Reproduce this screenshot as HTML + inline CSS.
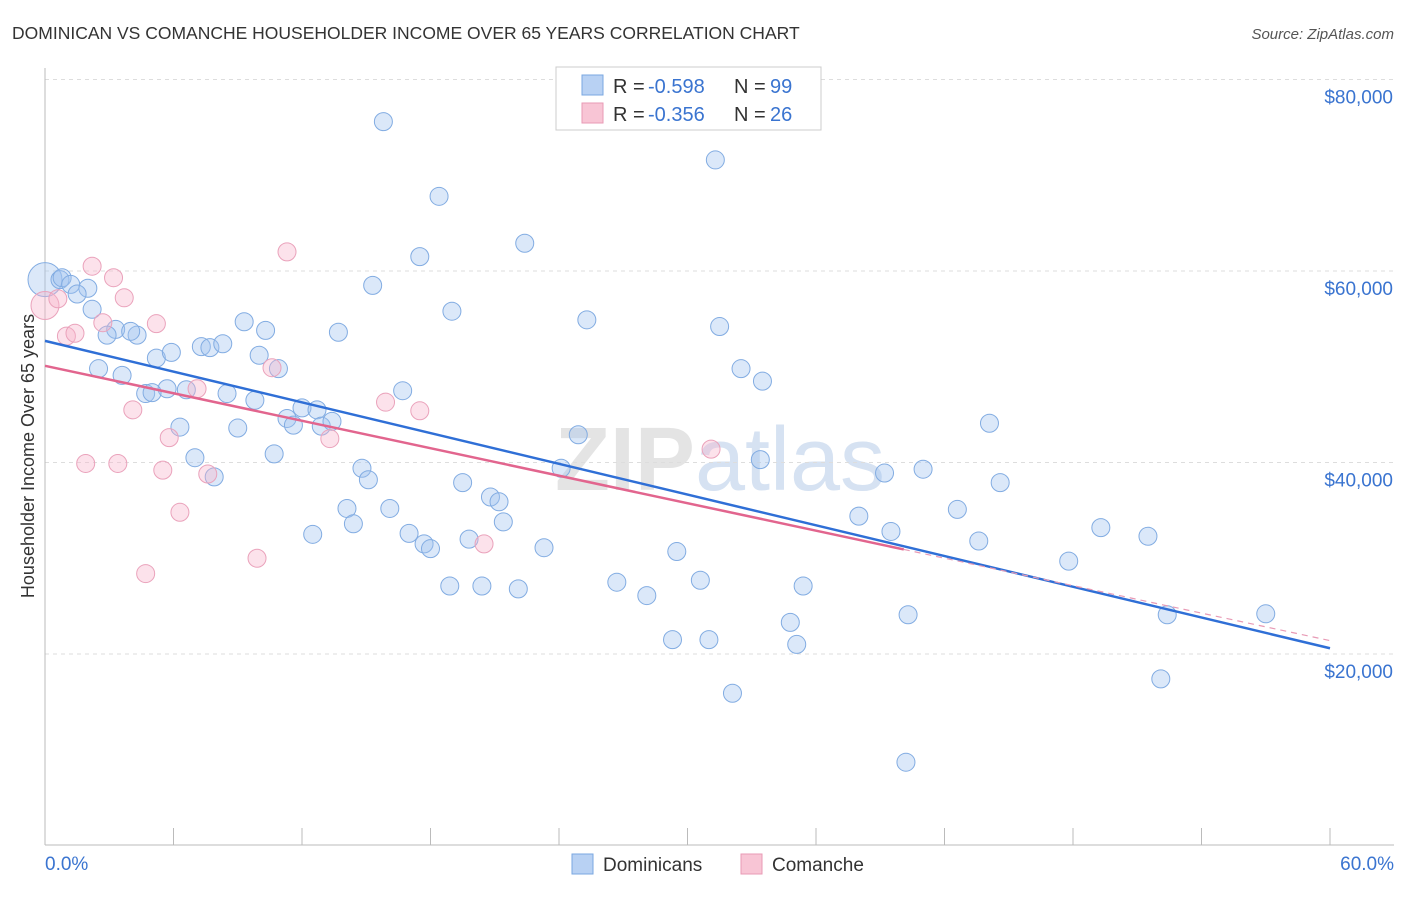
<!DOCTYPE html>
<html><head><meta charset="utf-8"><style>
body{margin:0;background:#fff;font-family:"Liberation Sans",sans-serif;}
svg text{font-family:"Liberation Sans",sans-serif;}
</style></head><body>
<svg id="chart" width="1406" height="892">
<text x="12" y="39" font-size="17.5" fill="#333">DOMINICAN VS COMANCHE HOUSEHOLDER INCOME OVER 65 YEARS CORRELATION CHART</text>
<text x="1394" y="39" font-size="15" fill="#555" font-style="italic" text-anchor="end">Source: ZipAtlas.com</text>
<text x="720" y="490" font-size="90" fill="#e4e4e4" text-anchor="middle" font-weight="bold">ZIP<tspan fill="#d6e2f2" font-weight="normal">atlas</tspan></text>
<g id="grid"></g>
<g id="axes"></g>
<g id="pts"></g>
<g id="trend"></g>
<text transform="translate(34,456) rotate(-90)" font-size="18" fill="#333" text-anchor="middle">Householder Income Over 65 years</text>
<g>
<rect x="556" y="67" width="265" height="63" fill="#fff" stroke="#ccc"/>
<rect x="582" y="75" width="21" height="20" fill="#b8d1f3" stroke="#7aa7e0"/>
<rect x="582" y="103" width="21" height="20" fill="#f8c5d5" stroke="#e89ab5"/>
<text x="613" y="93" font-size="20" fill="#333">R =</text>
<text x="648" y="93" font-size="20" fill="#3a74d0">-0.598</text>
<text x="734" y="93" font-size="20" fill="#333">N =</text>
<text x="770" y="93" font-size="20" fill="#3a74d0">99</text>
<text x="613" y="121" font-size="20" fill="#333">R =</text>
<text x="648" y="121" font-size="20" fill="#3a74d0">-0.356</text>
<text x="734" y="121" font-size="20" fill="#333">N =</text>
<text x="770" y="121" font-size="20" fill="#3a74d0">26</text>
</g>
<g>
<rect x="572" y="854" width="21" height="20" fill="#b8d1f3" stroke="#7aa7e0"/>
<text x="603" y="871" font-size="19" fill="#333">Dominicans</text>
<rect x="741" y="854" width="21" height="20" fill="#f8c5d5" stroke="#e89ab5"/>
<text x="772" y="871" font-size="19" fill="#333">Comanche</text>
</g>
</svg>
<script>
const yTicks=[20000,40000,60000,80000];
const yTickLabels=["$20,000","$40,000","$60,000","$80,000"];
const xTickLabels=["0.0%","60.0%"];
const blueX=[0.0,0.7,0.8,1.2,2.0,1.5,2.2,3.3,2.9,4.3,4.0,2.5,3.6,5.2,5.9,5.7,4.7,5.0,6.6,6.3,7.3,7.7,8.3,8.5,9.3,10.3,10.0,10.9,9.8,9.0,7.0,7.9,10.7,11.3,11.6,12.0,12.7,12.9,13.4,13.7,15.3,15.8,17.5,18.4,19.0,16.7,14.8,15.1,14.1,14.4,16.1,12.5,17.0,17.7,18.0,18.9,19.5,19.8,20.4,20.8,21.2,21.4,22.1,22.4,23.3,24.9,24.1,25.3,26.7,28.1,29.5,29.3,30.6,31.0,31.3,31.5,32.5,33.5,33.4,32.1,34.8,35.1,35.4,38.0,39.2,39.5,40.3,40.2,41.0,42.6,43.6,44.1,44.6,47.8,49.3,51.5,52.1,52.4,57.0];
const blueY=[59100,59100,59300,58600,58200,57600,56000,53900,53300,53300,53700,49800,49100,50900,51500,47700,47200,47300,47600,43700,52100,52000,52400,47200,54700,53800,51200,49800,46500,43600,40500,38500,40900,44600,43900,45700,45500,43800,44300,53600,58500,75600,61500,67800,55800,47500,39400,38200,35200,33600,35200,32500,32600,31500,31000,27100,37900,32000,27100,36400,35900,33800,26800,62900,31100,42900,39400,54900,27500,26100,30700,21500,27700,21500,71600,54200,49800,48500,40300,15900,23300,21000,27100,34400,38900,32800,24100,8700,39300,35100,31800,44100,37900,29700,33200,32300,17400,24100,24200];
const pinkX=[0.0,0.6,1.0,1.4,2.2,2.7,3.2,3.7,1.9,3.4,4.1,5.2,5.8,5.5,6.3,4.7,7.1,7.6,9.9,10.6,11.3,13.3,15.9,17.5,20.5,31.1];
const pinkY=[56400,57100,53200,53500,60500,54600,59300,57200,39900,39900,45500,54500,42600,39200,34800,28400,47700,38800,30000,49900,62000,42500,46300,45400,31500,41400];
const blueTrend=[52700,20600];
const pinkTrend=[50100,21400];
const pinkSolidEnd=40.1;
const NS="http://www.w3.org/2000/svg";
const X0=45,X1=1330;
function sx(p){return X0+(p/60)*(X1-X0);}
function sy(v){return 654-(v-20000)*191.5/20000;}
function mk(tag,attrs,parent){const e=document.createElementNS(NS,tag);for(const k in attrs)e.setAttribute(k,attrs[k]);parent.appendChild(e);return e;}
const grid=document.getElementById('grid'),axes=document.getElementById('axes');
yTicks.forEach((t,i)=>{
 const l=mk('line',{x1:45,x2:1394,y1:sy(t),y2:sy(t),stroke:'#ddd','stroke-dasharray':'4,4'},grid);
 
 
 const tx=mk('text',{x:1393,y:sy(t)+24,'font-size':19,fill:'#3a74d0','text-anchor':'end'},axes);
 tx.textContent=yTickLabels[i];
 
 
});
const xa=mk('line',{x1:45,x2:1394,y1:845,y2:845,stroke:'#bbb'},axes);


const ya=mk('line',{x1:45,x2:45,y1:68,y2:845,stroke:'#bbb'},axes);


for(let i=0;i<=10;i++){
 const t=mk('line',{x1:sx(i*6),x2:sx(i*6),y1:828,y2:845,stroke:'#bbb'},axes);
 
 
}
const xl0=mk('text',{x:45,y:870,'font-size':19,fill:'#3a74d0'},axes);xl0.textContent=xTickLabels[0];


const xl1=mk('text',{x:1394,y:870,'font-size':19,fill:'#3a74d0','text-anchor':'end'},axes);xl1.textContent=xTickLabels[1];


const pts=document.getElementById('pts');
blueX.forEach((x,i)=>{
 const c=mk('circle',{cx:sx(x),cy:sy(blueY[i]),r:i===0?17:9,fill:'rgba(160,195,240,0.38)',stroke:'#82ace2','stroke-width':1},pts);
 
 
});
pinkX.forEach((x,i)=>{
 const c=mk('circle',{cx:sx(x),cy:sy(pinkY[i]),r:i===0?14:9,fill:'rgba(246,178,202,0.38)',stroke:'#eaa2bb','stroke-width':1},pts);
 
 
});
const tr=document.getElementById('trend');
const bt=mk('line',{x1:sx(0),y1:sy(blueTrend[0]),x2:sx(60),y2:sy(blueTrend[1]),stroke:'#2f6fd6','stroke-width':2.5},tr);


const pAt=x=>pinkTrend[0]+(pinkTrend[1]-pinkTrend[0])*x/60;
const pt=mk('line',{x1:sx(0),y1:sy(pinkTrend[0]),x2:sx(pinkSolidEnd),y2:sy(pAt(pinkSolidEnd)),stroke:'#e2658e','stroke-width':2.5},tr);


const pd=mk('line',{x1:sx(pinkSolidEnd),y1:sy(pAt(pinkSolidEnd)),x2:sx(60),y2:sy(pinkTrend[1]),stroke:'#e89ab5','stroke-width':1.2,'stroke-dasharray':'6,5'},tr);


</script>
</body></html>
